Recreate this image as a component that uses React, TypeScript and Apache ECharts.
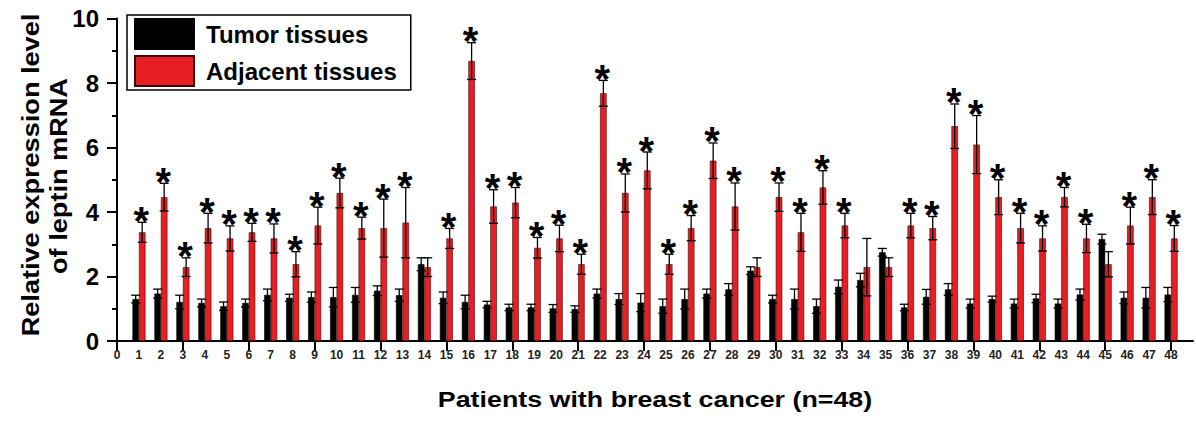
import React, { useEffect, useRef } from "react";
import * as echarts from "echarts";

const xLabels = [
  "0", "1", "2", "3", "4", "5", "6", "7", "8", "9", "10", "11", "12", "13", "14", "15", "16",
  "17", "18", "19", "20", "21", "22", "23", "24", "25", "26", "27", "28", "29", "30", "31", "32",
  "33", "34", "35", "36", "37", "38", "39", "40", "41", "42", "43", "44", "45", "46", "47", "48", "",
];

const patients = [
  "1", "2", "3", "4", "5", "6", "7", "8", "9", "10", "11", "12", "13", "14", "15", "16",
  "17", "18", "19", "20", "21", "22", "23", "24", "25", "26", "27", "28", "29", "30", "31", "32",
  "33", "34", "35", "36", "37", "38", "39", "40", "41", "42", "43", "44", "45", "46", "47", "48",
];

const tumorMean = [
  1.30, 1.47, 1.21, 1.18, 1.08, 1.18, 1.43, 1.34, 1.36, 1.36, 1.43, 1.56, 1.42, 2.38, 1.34, 1.21,
  1.13, 1.04, 1.04, 1.01, 0.99, 1.47, 1.30, 1.19, 1.08, 1.30, 1.47, 1.60, 2.18, 1.30, 1.30, 1.08,
  1.68, 1.89, 2.75, 1.04, 1.37, 1.60, 1.16, 1.30, 1.16, 1.32, 1.16, 1.44, 3.16, 1.34, 1.34, 1.44,
];
const tumorErr = [
  0.12, 0.14, 0.21, 0.12, 0.13, 0.12, 0.18, 0.11, 0.16, 0.30, 0.23, 0.15, 0.19, 0.20, 0.18, 0.21,
  0.10, 0.10, 0.10, 0.12, 0.10, 0.14, 0.17, 0.28, 0.22, 0.31, 0.14, 0.18, 0.12, 0.12, 0.31, 0.22,
  0.21, 0.21, 0.12, 0.10, 0.23, 0.18, 0.14, 0.09, 0.14, 0.13, 0.14, 0.17, 0.15, 0.18, 0.32, 0.22,
];
const adjMean = [
  3.37, 4.46, 2.29, 3.50, 3.18, 3.37, 3.18, 2.38, 3.58, 4.59, 3.50, 3.50, 3.67, 2.29, 3.18, 8.68,
  4.17, 4.29, 2.89, 3.18, 2.38, 7.68, 4.59, 5.29, 2.38, 3.50, 5.59, 4.17, 2.29, 4.46, 3.37, 4.76,
  3.58, 2.29, 2.29, 3.58, 3.50, 6.66, 6.09, 4.46, 3.50, 3.18, 4.46, 3.18, 2.38, 3.58, 4.46, 3.18,
];
const adjErr = [
  0.31, 0.43, 0.29, 0.46, 0.39, 0.28, 0.45, 0.39, 0.57, 0.46, 0.34, 0.90, 1.09, 0.29, 0.31, 0.57,
  0.52, 0.47, 0.32, 0.41, 0.31, 0.40, 0.59, 0.57, 0.31, 0.39, 0.55, 0.73, 0.29, 0.44, 0.59, 0.52,
  0.38, 0.89, 0.29, 0.38, 0.36, 0.69, 0.90, 0.54, 0.46, 0.39, 0.30, 0.44, 0.39, 0.57, 0.54, 0.40,
];
const significant = [
  1, 1, 1, 1, 1, 1, 1, 1, 1, 1, 1, 1, 1, 0, 1, 1,
  1, 1, 1, 1, 1, 1, 1, 1, 1, 1, 1, 1, 0, 1, 1, 1,
  1, 0, 0, 1, 1, 1, 1, 1, 1, 1, 1, 1, 0, 1, 1, 1,
];

const yTicks = [0, 2, 4, 6, 8, 10];

const FONT = "'Liberation Sans', Arial, Helvetica, sans-serif";
const RED = "#e81e25";
const BAR_W = 6.5;

function makeErrRender(offset: number, withStar: boolean) {
  return (params: any, api: any) => {
    const idx = api.value(0);
    const m = api.value(1);
    const e = api.value(2);
    const c = api.coord([idx, m]);
    const t = api.coord([idx, m + e]);
    const b = api.coord([idx, m - e]);
    const x = c[0] + offset;
    const half = 4.5;
    const st = { stroke: "#000", lineWidth: 1.3 };
    const children: any[] = [
      { type: "line", shape: { x1: x, y1: t[1], x2: x, y2: b[1] }, style: st },
      { type: "line", shape: { x1: x - half, y1: t[1], x2: x + half, y2: t[1] }, style: st },
      { type: "line", shape: { x1: x - half, y1: b[1], x2: x + half, y2: b[1] }, style: st },
    ];
    if (withStar && api.value(3) === 1) {
      children.push({
        type: "text",
        style: {
          text: "*",
          x: x - 1,
          y: t[1] - 1.5,
          align: "center",
          verticalAlign: "middle",
          font: `bold 40px ${FONT}`,
          fill: "#000",
        },
      });
    }
    return { type: "group", children };
  };
}

export default function App() {
  const ref = useRef<HTMLDivElement>(null);
  useEffect(() => {
    if (!ref.current) return;
    const chart = echarts.init(ref.current, undefined, { renderer: "svg" });
    chart.setOption({
      animation: false,
      backgroundColor: "#fff",
      grid: { left: 117, right: 3, top: 18.5, bottom: 80, containLabel: false },
      legend: {
        data: ["Tumor tissues", "Adjacent tissues"],
        orient: "vertical",
        left: 127,
        top: 15,
        padding: [3, 14, 3, 7],
        itemGap: 5,
        itemWidth: 59,
        itemHeight: 30,
        selectedMode: false,
        borderColor: "#000",
        borderWidth: 1.5,
        backgroundColor: "#fff",
        icon: "rect",
        textStyle: {
          fontFamily: FONT,
          fontSize: 24,
          fontWeight: "bold",
          color: "#000",
          padding: [0, 0, 0, 7],
        },
      },
      xAxis: {
        type: "category",
        data: xLabels,
        boundaryGap: false,
        axisLine: { lineStyle: { color: "#000", width: 2 } },
        axisTick: {
          show: true,
          length: 10,
          interval: (index: number) => index % 3 === 0 && index <= 48,
          lineStyle: { color: "#000", width: 2 },
        },
        axisLabel: {
          interval: 0,
          margin: 8,
          fontFamily: FONT,
          fontSize: 12,
          fontWeight: "bold",
          color: "#222",
        },
        splitLine: { show: false },
      },
      yAxis: {
        type: "value",
        min: 0,
        max: 10,
        interval: 2,
        axisLine: { show: true, lineStyle: { color: "#000", width: 2 } },
        axisTick: { show: true, length: 10, lineStyle: { color: "#000", width: 2 } },
        minorTick: { show: true, splitNumber: 2, length: 5, lineStyle: { color: "#000", width: 2 } },
        axisLabel: {
          margin: 18,
          fontFamily: FONT,
          fontSize: 24,
          fontWeight: "bold",
          color: "#000",
          formatter: (v: number) => (yTicks.includes(v) ? String(v) : ""),
        },
        splitLine: { show: false },
      },
      graphic: [
        {
          type: "text",
          x: 31,
          y: 175,
          rotation: Math.PI / 2,
          scaleX: 1.18,
          style: {
            text: "Relative expression level",
            align: "center",
            verticalAlign: "middle",
            font: `bold 23px ${FONT}`,
            fill: "#000",
          },
        },
        {
          type: "text",
          x: 59,
          y: 176,
          rotation: Math.PI / 2,
          scaleX: 1.18,
          style: {
            text: "of leptin mRNA",
            align: "center",
            verticalAlign: "middle",
            font: `bold 23px ${FONT}`,
            fill: "#000",
          },
        },
        {
          type: "text",
          x: 655,
          y: 399,
          scaleX: 1.22,
          style: {
            text: "Patients with breast cancer (n=48)",
            align: "center",
            verticalAlign: "middle",
            font: `bold 22px ${FONT}`,
            fill: "#000",
          },
        },
      ],
      series: [
        {
          name: "Tumor tissues",
          type: "bar",
          barWidth: BAR_W,
          barGap: "0%",
          itemStyle: { color: "#000", borderColor: "#000", borderWidth: 0.6 },
          data: patients.map((p, i) => [p, tumorMean[i]]),
          z: 2,
        },
        {
          name: "Adjacent tissues",
          type: "bar",
          barWidth: BAR_W,
          barGap: "0%",
          itemStyle: { color: RED, borderColor: "#3a0a0a", borderWidth: 0.6 },
          data: patients.map((p, i) => [p, adjMean[i]]),
          z: 2,
        },
        {
          name: "tumorErr",
          type: "custom",
          renderItem: makeErrRender(-BAR_W / 2, false),
          data: patients.map((p, i) => [p, tumorMean[i], tumorErr[i]]),
          z: 5,
          silent: true,
        },
        {
          name: "adjErr",
          type: "custom",
          renderItem: makeErrRender(BAR_W / 2, true),
          data: patients.map((p, i) => [p, adjMean[i], adjErr[i], significant[i]]),
          z: 5,
          silent: true,
        },
      ],
    });
    return () => chart.dispose();
  }, []);
  return (
    <div
      ref={ref}
      style={{ position: "fixed", left: 0, top: 0, width: 1196, height: 421, background: "#fff" }}
    />
  );
}
